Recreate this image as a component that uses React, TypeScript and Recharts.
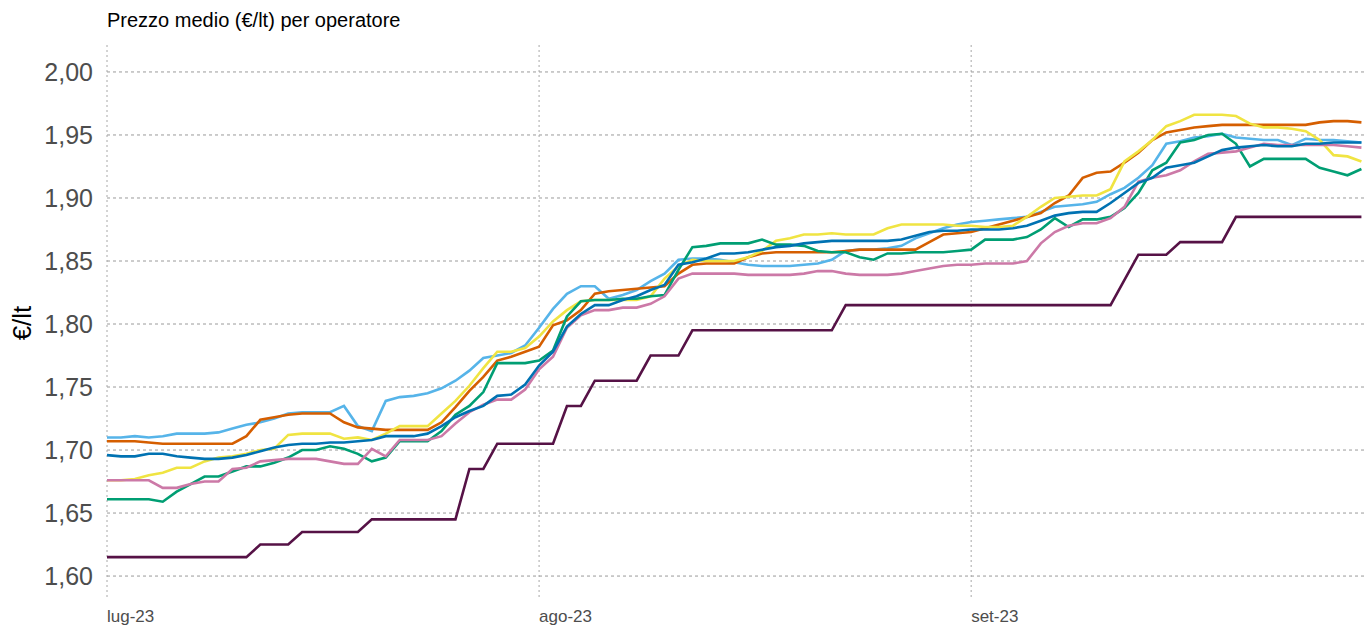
import React from 'react';
import { LineChart, Line, XAxis, YAxis, CartesianGrid } from 'recharts';

// giorno 0 = 1 luglio 2023, giorno 31 = 1 agosto, giorno 62 = 1 settembre
const monthTicks = [0, 31, 62];
const monthLabels = ['lug-23', 'ago-23', 'set-23'];
const yTicks = [1.6, 1.65, 1.7, 1.75, 1.8, 1.85, 1.9, 1.95, 2.0];

const lightBlue = [
  1.710, 1.710, 1.711, 1.710, 1.711, 1.713, 1.713, 1.713, 1.714, 1.717,
  1.720, 1.722, 1.725, 1.729, 1.730, 1.730, 1.730, 1.735, 1.719, 1.715,
  1.739, 1.742, 1.743, 1.745, 1.749, 1.755, 1.763, 1.773, 1.775, 1.777,
  1.783, 1.797, 1.812, 1.824, 1.830, 1.830, 1.820, 1.823, 1.827, 1.834,
  1.840, 1.851, 1.852, 1.852, 1.851, 1.849, 1.847, 1.846, 1.846, 1.846,
  1.847, 1.848, 1.851, 1.858, 1.859, 1.859, 1.860, 1.862, 1.868, 1.872,
  1.876, 1.879, 1.881, 1.882, 1.883, 1.884, 1.885, 1.889, 1.893, 1.894,
  1.895, 1.897, 1.903, 1.908, 1.916, 1.926, 1.943, 1.945, 1.948, 1.949,
  1.951, 1.948, 1.947, 1.946, 1.946, 1.942, 1.947, 1.946, 1.946, 1.945,
  1.944,
];

const orange = [
  1.707, 1.707, 1.707, 1.706, 1.705, 1.705, 1.705, 1.705, 1.705, 1.705,
  1.711, 1.724, 1.726, 1.728, 1.729, 1.729, 1.729, 1.722, 1.718, 1.717,
  1.716, 1.716, 1.716, 1.716, 1.722, 1.734, 1.747, 1.758, 1.771, 1.774,
  1.778, 1.782, 1.799, 1.803, 1.811, 1.824, 1.826, 1.827, 1.828, 1.829,
  1.830, 1.840, 1.847, 1.848, 1.848, 1.848, 1.853, 1.856, 1.857, 1.857,
  1.857, 1.857, 1.857, 1.858, 1.859, 1.859, 1.859, 1.859, 1.859, 1.865,
  1.871, 1.872, 1.873, 1.876, 1.879, 1.882, 1.885, 1.888, 1.896, 1.902,
  1.916, 1.920, 1.921, 1.928, 1.936, 1.946, 1.952, 1.954, 1.956, 1.957,
  1.958, 1.958, 1.958, 1.958, 1.958, 1.958, 1.958, 1.960, 1.961, 1.961,
  1.960,
];

const yellow = [
  1.676, 1.676, 1.677, 1.680, 1.682, 1.686, 1.686, 1.691, 1.694, 1.695,
  1.697, 1.700, 1.701, 1.712, 1.713, 1.713, 1.713, 1.709, 1.710, 1.708,
  1.713, 1.719, 1.719, 1.719, 1.729, 1.739, 1.751, 1.765, 1.778, 1.778,
  1.781, 1.790, 1.802, 1.811, 1.818, 1.819, 1.819, 1.819, 1.819, 1.822,
  1.836, 1.846, 1.851, 1.850, 1.850, 1.850, 1.853, 1.858, 1.866, 1.868,
  1.871, 1.871, 1.872, 1.871, 1.871, 1.871, 1.876, 1.879, 1.879, 1.879,
  1.879, 1.878, 1.878, 1.877, 1.877, 1.878, 1.885, 1.893, 1.900, 1.901,
  1.902, 1.902, 1.907, 1.929, 1.937, 1.946, 1.957, 1.961, 1.966, 1.966,
  1.966, 1.965, 1.959, 1.956, 1.956, 1.955, 1.953, 1.946, 1.934, 1.933,
  1.929,
];

const blue = [
  1.696, 1.695, 1.695, 1.697, 1.697, 1.695, 1.694, 1.693, 1.693, 1.694,
  1.696, 1.699, 1.702, 1.704, 1.705, 1.705, 1.706, 1.706, 1.707, 1.708,
  1.711, 1.711, 1.711, 1.713, 1.719, 1.726, 1.731, 1.735, 1.743, 1.744,
  1.752, 1.767, 1.778, 1.798, 1.808, 1.815, 1.815, 1.819, 1.822, 1.827,
  1.831, 1.847, 1.849, 1.852, 1.856, 1.856, 1.857, 1.859, 1.861, 1.862,
  1.864, 1.865, 1.866, 1.866, 1.866, 1.866, 1.866, 1.867, 1.870, 1.873,
  1.874, 1.874, 1.875, 1.875, 1.875, 1.876, 1.878, 1.882, 1.886, 1.888,
  1.889, 1.889, 1.896, 1.904, 1.912, 1.916, 1.924, 1.926, 1.928, 1.933,
  1.938, 1.940, 1.941, 1.942, 1.941, 1.941, 1.943, 1.943, 1.944, 1.944,
  1.944,
];

const green = [
  1.661, 1.661, 1.661, 1.661, 1.659, 1.667, 1.673, 1.679, 1.679, 1.683,
  1.687, 1.687, 1.690, 1.694, 1.700, 1.700, 1.703, 1.701, 1.697, 1.691,
  1.694, 1.707, 1.707, 1.707, 1.715, 1.728, 1.735, 1.746, 1.769, 1.769,
  1.769, 1.771, 1.779, 1.806, 1.818, 1.819, 1.819, 1.820, 1.820, 1.822,
  1.823, 1.843, 1.861, 1.862, 1.864, 1.864, 1.864, 1.867, 1.863, 1.863,
  1.862, 1.858, 1.857, 1.857, 1.853, 1.851, 1.856, 1.856, 1.857, 1.857,
  1.857, 1.858, 1.859, 1.867, 1.867, 1.867, 1.869, 1.875, 1.884, 1.877,
  1.883, 1.883, 1.885, 1.892, 1.904, 1.922, 1.928, 1.944, 1.946, 1.950,
  1.951, 1.943, 1.925, 1.931, 1.931, 1.931, 1.931, 1.924, 1.921, 1.918,
  1.923,
];

const pink = [
  1.676, 1.676, 1.676, 1.676, 1.670, 1.670, 1.673, 1.675, 1.675, 1.685,
  1.686, 1.691, 1.692, 1.693, 1.693, 1.693, 1.691, 1.689, 1.689, 1.701,
  1.695, 1.708, 1.708, 1.708, 1.711, 1.721, 1.730, 1.736, 1.740, 1.740,
  1.748, 1.764, 1.774, 1.797, 1.807, 1.811, 1.811, 1.813, 1.813, 1.816,
  1.822, 1.836, 1.840, 1.840, 1.840, 1.840, 1.839, 1.839, 1.839, 1.839,
  1.840, 1.842, 1.842, 1.840, 1.839, 1.839, 1.839, 1.840, 1.842, 1.844,
  1.846, 1.847, 1.847, 1.848, 1.848, 1.848, 1.850, 1.864, 1.873, 1.878,
  1.880, 1.880, 1.884, 1.893, 1.913, 1.916, 1.918, 1.922, 1.929, 1.935,
  1.936, 1.937, 1.940, 1.943, 1.942, 1.942, 1.942, 1.942, 1.942, 1.941,
  1.940,
];

const purple = [
  1.615, 1.615, 1.615, 1.615, 1.615, 1.615, 1.615, 1.615, 1.615, 1.615,
  1.615, 1.625, 1.625, 1.625, 1.635, 1.635, 1.635, 1.635, 1.635, 1.645,
  1.645, 1.645, 1.645, 1.645, 1.645, 1.645, 1.685, 1.685, 1.705, 1.705,
  1.705, 1.705, 1.705, 1.735, 1.735, 1.755, 1.755, 1.755, 1.755, 1.775,
  1.775, 1.775, 1.795, 1.795, 1.795, 1.795, 1.795, 1.795, 1.795, 1.795,
  1.795, 1.795, 1.795, 1.815, 1.815, 1.815, 1.815, 1.815, 1.815, 1.815,
  1.815, 1.815, 1.815, 1.815, 1.815, 1.815, 1.815, 1.815, 1.815, 1.815,
  1.815, 1.815, 1.815, 1.835, 1.855, 1.855, 1.855, 1.865, 1.865, 1.865,
  1.865, 1.885, 1.885, 1.885, 1.885, 1.885, 1.885, 1.885, 1.885, 1.885,
  1.885,
];

const series = [
  { key: 'purple', values: purple, color: '#561246' },
  { key: 'lightBlue', values: lightBlue, color: '#56B4E9' },
  { key: 'orange', values: orange, color: '#D55E00' },
  { key: 'yellow', values: yellow, color: '#F0E442' },
  { key: 'green', values: green, color: '#009E73' },
  { key: 'pink', values: pink, color: '#CC79A7' },
  { key: 'blue', values: blue, color: '#0072B2' },
];

const chartData = purple.map((_, d) => {
  const row: Record<string, number> = { day: d };
  series.forEach((s) => {
    row[s.key] = s.values[d];
  });
  return row;
});

const font = '"Liberation Sans", Arial, sans-serif';

const YTick = (props: any) => {
  const { y, payload } = props;
  return (
    <text x={93} y={y} textAnchor="end" dominantBaseline="central" fontSize={25} fill="#4d4d4d" fontFamily={font}>
      {payload.value.toFixed(2).replace('.', ',')}
    </text>
  );
};

const XTick = (props: any) => {
  const { x, payload } = props;
  const i = monthTicks.indexOf(payload.value);
  return (
    <text x={x} y={622} textAnchor="start" fontSize={17} fill="#4d4d4d" fontFamily={font}>
      {monthLabels[i]}
    </text>
  );
};

export default function App() {
  return (
    <div style={{ position: 'fixed', left: 0, top: 0, width: 1367, height: 630, background: '#fff', fontFamily: font }}>
      <div style={{ position: 'absolute', left: 107, top: 10, fontSize: 20, lineHeight: '20px', color: '#000', whiteSpace: 'nowrap' }}>
        Prezzo medio (€/lt) per operatore
      </div>
      <div
        style={{
          position: 'absolute',
          left: 22,
          top: 323,
          transform: 'translate(-50%, -50%) rotate(-90deg)',
          fontSize: 26,
          color: '#000',
          whiteSpace: 'nowrap',
        }}
      >
        €/lt
      </div>
      <LineChart width={1367} height={630} data={chartData} margin={{ top: 45, right: 0, bottom: 0, left: 0 }}>
        <CartesianGrid vertical={false} horizontalValues={yTicks} stroke="#9a9a9a" strokeDasharray="3 3" />
        <CartesianGrid horizontal={false} verticalValues={monthTicks} stroke="#a8a8a8" strokeDasharray="2 3" />
        <XAxis
          dataKey="day"
          type="number"
          domain={[0, 90.4]}
          ticks={monthTicks}
          allowDataOverflow
          axisLine={false}
          tickLine={false}
          height={30}
          tick={<XTick />}
          interval={0}
        />
        <YAxis
          type="number"
          domain={[1.581, 2.0214]}
          ticks={yTicks}
          allowDataOverflow
          axisLine={false}
          tickLine={false}
          width={107}
          tick={<YTick />}
          interval={0}
        />
        {series.map((s) => (
          <Line
            key={s.key}
            type="linear"
            dataKey={s.key}
            stroke={s.color}
            strokeWidth={2.6}
            dot={false}
            activeDot={false}
            isAnimationActive={false}
          />
        ))}
      </LineChart>
    </div>
  );
}
